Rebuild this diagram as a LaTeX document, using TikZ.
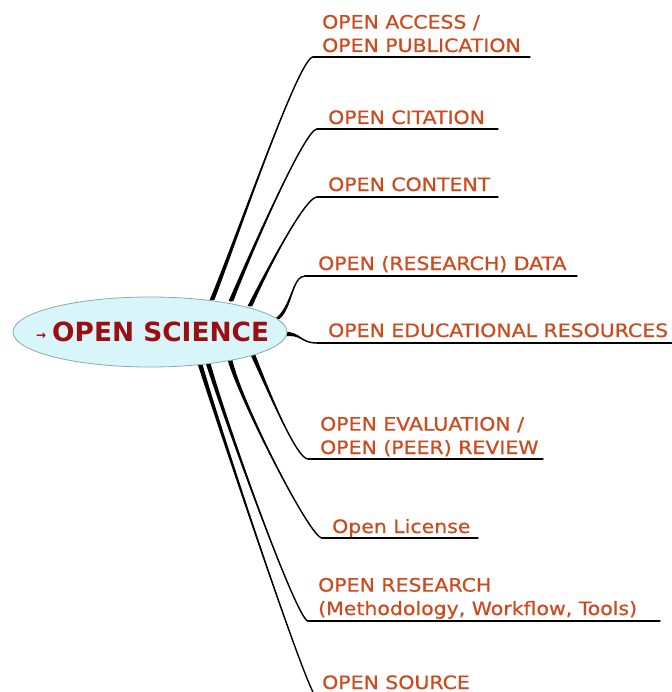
\documentclass[tikz,border=0pt]{standalone}
\usepackage{fontspec}
\setmainfont{DejaVu Sans}
\newfontfamily\lblfont{DejaVu Sans}[FakeStretch=1.11,FakeBold=0.6]
\usetikzlibrary{shapes.geometric,calc}
\definecolor{branchred}{HTML}{CC4A1E}
\definecolor{centerred}{HTML}{990F14}
\definecolor{ellfill}{HTML}{D8F6FA}
\definecolor{elldraw}{HTML}{8AA8B0}
\newcommand\taperstem[5]{% start, c1, c2, end, half-width vector
  \fill ($(#1)+#5$) .. controls ($#2+0.5*#5$) and #3 .. (#4) .. controls #3 and ($#2-0.5*#5$) .. ($(#1)-#5$) -- cycle;
  \draw[uline] (#1) .. controls #2 and #3 .. (#4);
}
\begin{document}
\begin{tikzpicture}[x=1bp,y=-1bp,
  lbl/.style={font=\lblfont\fontsize{18.5}{23.5}\selectfont, text=branchred, inner sep=0, anchor=base west, align=left},
  uline/.style={line width=1.4bp, line cap=round},
  centre/.style={ellipse, draw=elldraw, line width=0.8bp, fill=ellfill, minimum width=274bp, minimum height=70bp, inner sep=0}]
\useasboundingbox (0,0) rectangle (672,692);
\fill[white] (0,0) rectangle (672,692);

% start points on the ellipse
\coordinate (s1) at (212,300);
\coordinate (s2) at (231,301);
\coordinate (s3) at (250,306);
\coordinate (s4) at (277,319);
\coordinate (s5) at (284,334);
\coordinate (s6) at (253,355);
\coordinate (s7) at (230,360);
\coordinate (s8) at (208,363);
\coordinate (s9) at (200,364);
% corners of the underlines
\coordinate (e1) at (313,57);  \coordinate (r1) at (530,57);
\coordinate (e2) at (317,129); \coordinate (r2) at (498,129);
\coordinate (e3) at (317,197); \coordinate (r3) at (498,197);
\coordinate (e4) at (305,276); \coordinate (r4) at (577,276);
\coordinate (e5) at (317,343); \coordinate (r5) at (672,343);
\coordinate (e6) at (308,459); \coordinate (r6) at (543,459);
\coordinate (e7) at (322,538); \coordinate (r7) at (478,538);
\coordinate (e8) at (308,621); \coordinate (r8) at (660,621);
\coordinate (e9) at (314,694);

% branch stems
\taperstem{s1}{(238,235)}{(299,57)}{e1}{(2.4,0)}
\taperstem{s2}{(252,250)}{(305,129)}{e2}{(2.4,0)}
\taperstem{s3}{(266,272)}{(305,197)}{e3}{(2.4,0)}
\taperstem{s4}{(292,308)}{(292,276)}{e4}{(2.4,0)}
\taperstem{s5}{(302,333)}{(300,343)}{e5}{(0,2.4)}
\taperstem{s6}{(266,385)}{(296,459)}{e6}{(2.4,0)}
\taperstem{s7}{(240,400)}{(310,538)}{e7}{(2.4,0)}
\taperstem{s8}{(225,420)}{(297,621)}{e8}{(2.4,0)}
\taperstem{s9}{(220,430)}{(300,670)}{e9}{(2.4,0)}

% underlines
\foreach \i in {1,...,8} \draw[uline] (e\i) -- (r\i);

% central topic
\node[centre] (os) at (150,332) {};
\node[text=centerred, inner sep=0, anchor=west, font=\bfseries\fontsize{26.5}{30}\selectfont] (ostext) at (36,332)
  {{\fontsize{12}{12}\selectfont\raisebox{2bp}{→}}\hspace{6bp}OPEN SCIENCE};

% labels
\node[lbl] (t1) at (322,52) {OPEN ACCESS /\\OPEN PUBLICATION};
\node[lbl] (t2) at (328,124) {OPEN CITATION};
\node[lbl] (t3) at (328,191) {OPEN CONTENT};
\node[lbl] (t4) at (318,270) {OPEN (RESEARCH) DATA};
\node[lbl] (t5) at (328,337) {OPEN EDUCATIONAL RESOURCES};
\node[lbl] (t6) at (320,454) {OPEN EVALUATION /\\OPEN (PEER) REVIEW};
\node[lbl] (t7) at (332,533) {Open License};
\node[lbl] (t8) at (318,615) {OPEN RESEARCH\\(Methodology, Workflow, Tools)};
\node[lbl] (t9) at (322,689) {OPEN SOURCE};
\end{tikzpicture}
\end{document}
